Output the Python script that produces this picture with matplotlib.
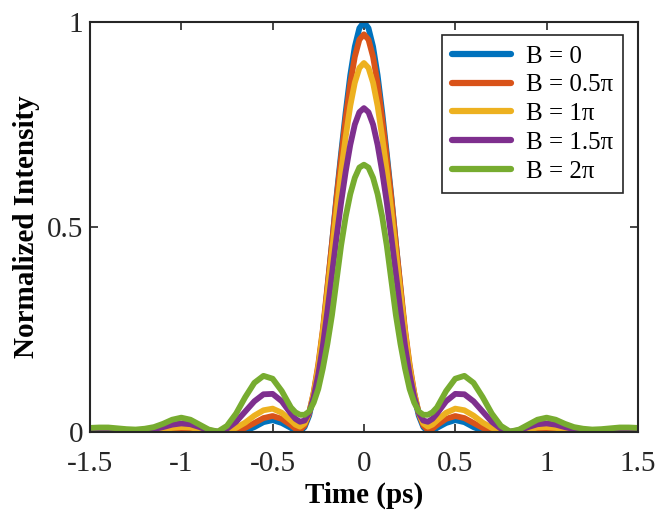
import matplotlib
matplotlib.use("Agg")
import matplotlib.pyplot as plt

plt.rcParams['font.family'] = ['Liberation Serif', 'DejaVu Serif']
plt.rcParams['mathtext.fontset'] = 'stix'
plt.rcParams['axes.unicode_minus'] = False

# Time axis (ps)
t = [-1.5, -1.45, -1.4, -1.35, -1.3, -1.25, -1.2, -1.15, -1.1, -1.05, -1.0,
     -0.95, -0.9, -0.85, -0.8, -0.75, -0.7, -0.65, -0.6, -0.55, -0.5, -0.45,
     -0.4, -0.375, -0.35, -0.325, -0.3, -0.275, -0.25, -0.225, -0.2, -0.175,
     -0.15, -0.125, -0.1, -0.075, -0.05, -0.025, 0.0, 0.025, 0.05, 0.075, 0.1,
     0.125, 0.15, 0.175, 0.2, 0.225, 0.25, 0.275, 0.3, 0.325, 0.35, 0.375, 0.4,
     0.45, 0.5, 0.55, 0.6, 0.65, 0.7, 0.75, 0.8, 0.85, 0.9, 0.95, 1.0, 1.05,
     1.1, 1.15, 1.2, 1.25, 1.3, 1.35, 1.4, 1.45, 1.5]

b0 = [0, 0, 0, 0, 0, 0, 0, 0, 0.001, 0.002, 0.002, 0.002, 0.001, 0, 0, 0, 0,
      0.003, 0.012, 0.024, 0.029, 0.022,
      0.01, 0.003, 0.001, 0.012, 0.04, 0.09, 0.155, 0.24, 0.35, 0.46, 0.575,
      0.68, 0.78, 0.87, 0.94, 0.985,
      1.0,
      0.985, 0.94, 0.87, 0.78, 0.68, 0.575, 0.46, 0.35, 0.24, 0.155, 0.09,
      0.04, 0.012, 0.001, 0.003, 0.01,
      0.022, 0.029, 0.024, 0.012, 0.003, 0, 0, 0, 0, 0.001, 0.002, 0.002,
      0.002, 0.001, 0, 0, 0, 0, 0, 0, 0, 0]

b05 = [0.001, 0.001, 0.001, 0.001, 0.001, 0.001, 0.001, 0.001, 0.003, 0.005,
       0.006, 0.005, 0.003, 0.001, 0, 0, 0.003, 0.01, 0.022, 0.034, 0.039, 0.032,
       0.017, 0.008, 0.005, 0.016, 0.046, 0.097, 0.165, 0.25, 0.355, 0.46, 0.57,
       0.67, 0.765, 0.85, 0.915, 0.957,
       0.97,
       0.957, 0.915, 0.85, 0.765, 0.67, 0.57, 0.46, 0.355, 0.25, 0.165, 0.097,
       0.046, 0.016, 0.005, 0.008, 0.017,
       0.032, 0.039, 0.034, 0.022, 0.01, 0.003, 0, 0, 0.001, 0.003, 0.005,
       0.006, 0.005, 0.003, 0.001, 0.001, 0.001, 0.001, 0.001, 0.001, 0.001, 0.001]

b1 = [0.003, 0.003, 0.003, 0.003, 0.002, 0.002, 0.002, 0.003, 0.006, 0.01,
      0.012, 0.011, 0.006, 0.002, 0.0, 0.003, 0.01, 0.023, 0.04, 0.053, 0.057, 0.047,
      0.028, 0.018, 0.013, 0.021, 0.047, 0.095, 0.16, 0.245, 0.34, 0.44, 0.54,
      0.635, 0.72, 0.795, 0.852, 0.888,
      0.90,
      0.888, 0.852, 0.795, 0.72, 0.635, 0.54, 0.44, 0.34, 0.245, 0.16, 0.095,
      0.047, 0.021, 0.013, 0.018, 0.028,
      0.047, 0.057, 0.053, 0.04, 0.023, 0.01, 0.003, 0.0, 0.002, 0.006, 0.011,
      0.012, 0.01, 0.006, 0.003, 0.002, 0.002, 0.002, 0.003, 0.003, 0.003, 0.003]

b15 = [0.006, 0.006, 0.006, 0.005, 0.004, 0.003, 0.004, 0.007, 0.012, 0.018,
       0.021, 0.019, 0.012, 0.004, 0.001, 0.008, 0.025, 0.05, 0.075, 0.092, 0.093, 0.075,
       0.045, 0.032, 0.025, 0.028, 0.047, 0.085, 0.14, 0.21, 0.295, 0.385, 0.475,
       0.56, 0.635, 0.70, 0.75, 0.78,
       0.79,
       0.78, 0.75, 0.70, 0.635, 0.56, 0.475, 0.385, 0.295, 0.21, 0.14, 0.085,
       0.047, 0.028, 0.025, 0.032, 0.045,
       0.075, 0.093, 0.092, 0.075, 0.05, 0.025, 0.008, 0.001, 0.004, 0.012, 0.019,
       0.021, 0.018, 0.012, 0.007, 0.004, 0.003, 0.004, 0.005, 0.006, 0.006, 0.006]

b2 = [0.01, 0.011, 0.011, 0.009, 0.007, 0.006, 0.008, 0.012, 0.02, 0.03,
      0.035, 0.03, 0.018, 0.006, 0.001, 0.015, 0.045, 0.085, 0.12, 0.137, 0.13, 0.1,
      0.06, 0.048, 0.042, 0.042, 0.05, 0.072, 0.105, 0.155, 0.215, 0.285, 0.37,
      0.455, 0.525, 0.58, 0.62, 0.645,
      0.652,
      0.645, 0.62, 0.58, 0.525, 0.455, 0.37, 0.285, 0.215, 0.155, 0.105, 0.072,
      0.05, 0.042, 0.042, 0.048, 0.06,
      0.1, 0.13, 0.137, 0.12, 0.085, 0.045, 0.015, 0.001, 0.006, 0.018, 0.03,
      0.035, 0.03, 0.02, 0.012, 0.008, 0.006, 0.007, 0.009, 0.011, 0.011, 0.01]

labels = ['B = 0', 'B = 0.5π', 'B = 1π', 'B = 1.5π', 'B = 2π']
series = [b0, b05, b1, b15, b2]
colors = ['#0072BD', '#D95319', '#EDB120', '#7E2F8E', '#77AC30']

for s in series:
    assert len(s) == len(t), len(s)

fig = plt.figure(figsize=(6.69, 5.18), dpi=100)
ax = fig.add_axes([0.1345, 0.166, 0.819, 0.7915])

for s, lab, c in zip(series, labels, colors):
    ax.plot(t, s, color=c, lw=4.2, label=lab, solid_joinstyle='round',
            solid_capstyle='round')

ax.set_xlim(-1.5, 1.5)
ax.set_ylim(0, 1)
ax.set_xticks([-1.5, -1, -0.5, 0, 0.5, 1, 1.5])
ax.set_xticklabels(['-1.5', '-1', '-0.5', '0', '0.5', '1', '1.5'])
ax.set_yticks([0, 0.5, 1])
ax.set_yticklabels(['0', '0.5', '1'])
ax.tick_params(direction='in', length=6, width=1.2, top=True, right=True,
               labelsize=21, colors='#262626', pad=5)
ax.tick_params(axis='x', pad=14)
for sp in ax.spines.values():
    sp.set_linewidth(1.5)
    sp.set_color('#262626')

ax.set_xlabel('Time (ps)', fontsize=21, fontweight='bold', labelpad=3)
ax.set_ylabel('Normalized Intensity', fontsize=21, fontweight='bold', labelpad=5)

leg = ax.legend(loc='upper right', bbox_to_anchor=(0.973, 0.968), fontsize=18,
                frameon=True, fancybox=False, framealpha=1, edgecolor='#262626',
                handlelength=2.35, handletextpad=0.6, labelspacing=0.25,
                borderpad=0.4, borderaxespad=0)
leg.get_frame().set_linewidth(1.2)
for line in leg.get_lines():
    line.set_linewidth(4.5)

fig.savefig('out.png', dpi=100)
